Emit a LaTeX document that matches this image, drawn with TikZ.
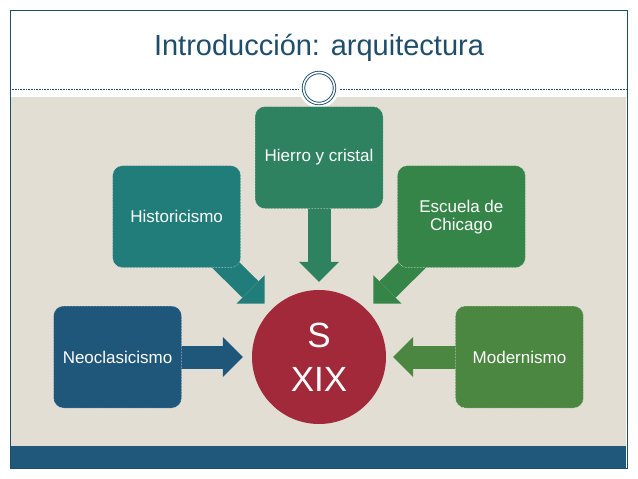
\documentclass[tikz,border=0pt]{standalone}
\usepackage{fontspec}
\setmainfont{Liberation Sans}
\usetikzlibrary{positioning,arrows.meta,backgrounds}
\definecolor{SlideBlue}{RGB}{31,78,107}
\definecolor{BandBlue}{RGB}{31,88,122}
\definecolor{SlideBeige}{RGB}{227,222,211}
\definecolor{NeoBlue}{RGB}{31,87,122}
\definecolor{HistTeal}{RGB}{33,125,122}
\definecolor{IronGreen}{RGB}{46,130,96}
\definecolor{ChicagoGreen}{RGB}{54,133,72}
\definecolor{ModGreen}{RGB}{75,135,65}
\definecolor{CentRed}{RGB}{161,41,57}
\pgfdeclarelayer{slide}
\pgfsetlayers{slide,background,main}

\begin{document}
\begin{tikzpicture}[
    x=1pt, y=-1pt,
    topic/.style={rectangle, rounded corners=10pt, fill=#1, draw=white!85!gray,
                  densely dotted, line width=0.5pt, text=white, align=center,
                  minimum width=128pt, minimum height=102pt, inner sep=2pt,
                  font=\fontsize{17}{18}\selectfont},
    centre/.style={circle, fill=CentRed, text=white, align=center,
                   minimum size=134pt, inner sep=0pt, font=\fontsize{35}{44}\selectfont},
    blockarrow/.style={draw=#1, line width=23pt, shorten <=-14pt,
                       -{Triangle[length=20pt, width=40pt, line width=0pt]}}
]
\useasboundingbox (0,0) rectangle (638,479);

% title and ring
\node[text=SlideBlue, font=\fontsize{29}{34}\selectfont] (title) at (319,48) {Introducción: arquitectura};
\node[circle, minimum size=31pt, draw=SlideBlue, double=white, double distance=1.6pt,
      line width=0.9pt] (ring) at (319,88) {};

\begin{pgfonlayer}{slide}
\fill[white] (0,0) rectangle (638,479);
\fill[SlideBeige] (11,97) rectangle (626,446);
\fill[BandBlue] (11,446) rectangle (626,468);
\draw[SlideBlue, line width=1pt] (10,10) rectangle (627,468);
\draw[SlideBlue, densely dotted, line width=0.6pt] (10,89) -- (627,89);
\fill[white] (ring.center) circle (20);
\end{pgfonlayer}

% centre and topics
\node[centre] (sxix) at (319,357) {S\\XIX};
\node[topic=NeoBlue, left=70pt of sxix] (neo) {Neoclasicismo};
\node[topic=ModGreen, right=69pt of sxix] (modern) {Modernismo};
\node[topic=IronGreen, above=81pt of sxix] (hierro) {Hierro y cristal};
\node[topic=HistTeal, above left=41.6pt and 30.6pt of sxix] (hist) {Historicismo};
\node[topic=ChicagoGreen, above right=41.6pt and 30.6pt of sxix] (chicago) {Escuela de\\Chicago};

% arrows into the centre
\begin{scope}[on background layer]
\draw[blockarrow=NeoBlue, shorten >=9pt] (neo) -- (sxix);
\draw[blockarrow=HistTeal, shorten >=9pt] (hist) -- (sxix);
\draw[blockarrow=IronGreen, shorten >=8pt] (hierro) -- (sxix);
\draw[blockarrow=ChicagoGreen, shorten >=9pt] (chicago) -- (sxix);
\draw[blockarrow=ModGreen, shorten >=7pt] (modern) -- (sxix);
\end{scope}

\end{tikzpicture}
\end{document}
